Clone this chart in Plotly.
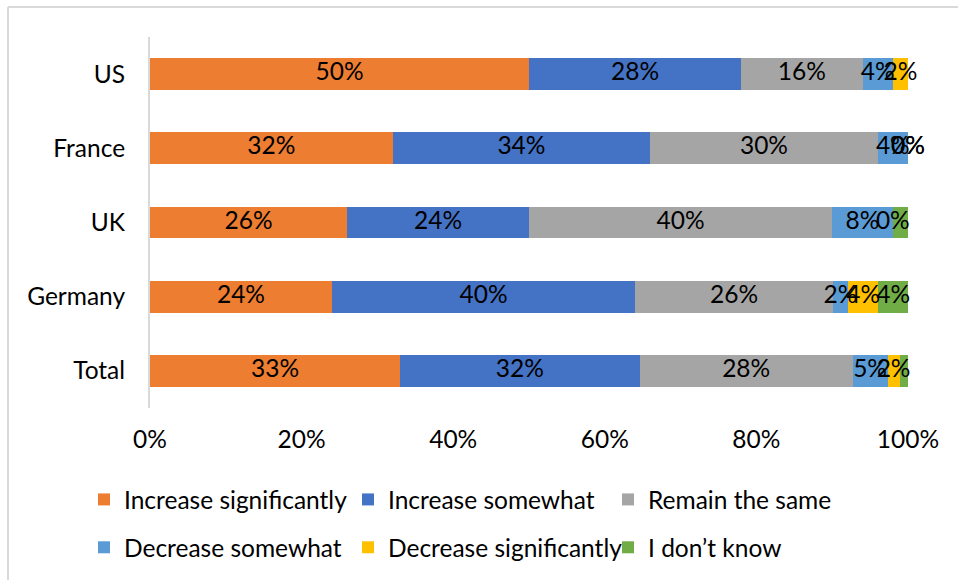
import numpy as np
import plotly.graph_objects as go

categories = ["Total", "Germany", "UK", "France", "US"]
series_names = ["Increase significantly", "Increase somewhat", "Remain the same",
                "Decrease somewhat", "Decrease significantly", "I don’t know"]
inc_sig = [33, 24, 26, 32, 50]
inc_some = [31.6, 40, 24, 34, 28]
remain = [28.1, 26.1, 40, 30, 16]
dec_some = [4.6, 2, 8, 4, 4]
dec_sig = [1.6, 4, 0, 0, 2]
dont_know = [1.1, 3.9, 2, 0, 0]
# which data labels are displayed (per series, per category)
label_shown = [
    [1, 1, 1, 1, 1],
    [1, 1, 1, 1, 1],
    [1, 1, 1, 1, 1],
    [1, 1, 1, 1, 1],
    [1, 1, 1, 1, 1],
    [0, 1, 0, 1, 0],
]
x_ticks = [0, 20, 40, 60, 80, 100]
colors = ["#ED7D31", "#4472C4", "#A5A5A5", "#5B9BD5", "#FFC000", "#70AD47"]

series = [inc_sig, inc_some, remain, dec_some, dec_sig, dont_know]

FONT = "Lato"
FS = 24.5

# plot-area pixel geometry
W, H = 958, 580
L, R, T, B = 150, 50, 37, 172
pw, ph = W - L - R, H - T - B
def px2x(px):
    return (px - L) / pw
def py2y(py):
    return (H - B - py) / ph

fig = go.Figure()
legend_ids = ["legend", "legend2", "legend3", "legend", "legend2", "legend3"]
for i, (name, vals) in enumerate(zip(series_names, series)):
    fig.add_trace(go.Bar(
        y=categories, x=vals, name=name, orientation="h",
        marker=dict(color=colors[i], line=dict(width=0)),
        legend=legend_ids[i], legendgroup=name,
        hoverinfo="skip",
    ))

# data labels centered in each segment
arr = np.array(series, dtype=float)
cum = np.cumsum(arr, axis=0)
mids = cum - arr / 2
lx, ly, lt = [], [], []
for i in range(arr.shape[0]):
    for j, c in enumerate(categories):
        if label_shown[i][j]:
            lx.append(mids[i, j])
            ly.append(c)
            lt.append(f"{arr[i, j]:.0f}%")
fig.add_trace(go.Scatter(
    x=lx, y=ly, text=lt, mode="text", showlegend=False,
    textfont=dict(family=FONT, size=FS, color="#000000"),
    cliponaxis=False, hoverinfo="skip",
))

legend_common = dict(
    orientation="v", font=dict(family=FONT, size=FS, color="#000000"),
    bgcolor="rgba(0,0,0,0)", traceorder="grouped", tracegroupgap=13,
    itemwidth=30, xanchor="left", yanchor="top",
    itemclick=False, itemdoubleclick=False,
)
ly0 = py2y(477)
fig.update_layout(
    width=W, height=H,
    margin=dict(l=L, r=R, t=T, b=B, pad=0, autoexpand=False),
    paper_bgcolor="white", plot_bgcolor="white",
    barmode="stack", bargap=0.57,
    font=dict(family=FONT, size=FS, color="#000000"),
    xaxis=dict(range=[0, 100], tickvals=x_ticks,
               ticktext=[f"{v}%" for v in x_ticks],
               showgrid=False, zeroline=False, showline=False, ticks="",
               ticklabelstandoff=14, fixedrange=True, automargin=False),
    yaxis=dict(categoryorder="array", categoryarray=categories,
               showgrid=False, zeroline=False, showline=True,
               linecolor="#D9D9D9", linewidth=2, ticks="",
               ticklabelstandoff=18, fixedrange=True, automargin=False),
    legend=dict(x=px2x(84), y=ly0, **legend_common),
    legend2=dict(x=px2x(348), y=ly0, **legend_common),
    legend3=dict(x=px2x(608), y=ly0, **legend_common),
    showlegend=True,
    shapes=[
        dict(type="line", xref="paper", yref="paper",
             x0=px2x(8), x1=px2x(958), y0=py2y(7), y1=py2y(7),
             line=dict(color="#D9D9D9", width=2)),
        dict(type="line", xref="paper", yref="paper",
             x0=px2x(8), x1=px2x(8), y0=py2y(7), y1=py2y(580),
             line=dict(color="#D9D9D9", width=2)),
    ],
)

fig.write_html("out.html", config={"displayModeBar": False},
               post_script="document.body.style.margin='0px';")
